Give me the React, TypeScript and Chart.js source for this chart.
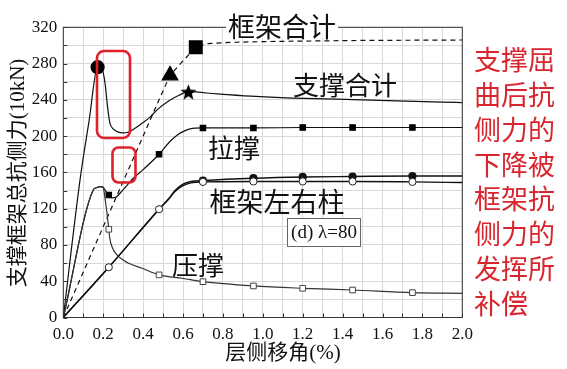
import React, { useEffect, useRef } from "react";
import { Chart, registerables } from "chart.js";
Chart.register(...registerables);

// ---- data (drift ratio %, lateral force 10kN) ----
const braceTotalX = [0, 0.084, 0.13, 0.172, 0.19, 0.2, 0.21, 0.218, 0.226, 0.234, 0.25, 0.27, 0.3, 0.32, 0.4, 0.435, 0.47, 0.53, 0.58, 0.627, 0.77, 0.94, 1.15, 1.5, 1.9, 2.0];
const braceTotalY = [0, 152, 218, 276, 275, 270, 257, 240, 225, 214, 208, 205, 203.5, 204, 215, 221, 229, 239, 245, 249, 246.5, 244, 242, 240, 237.5, 237];

const tensionX = [0, 0.15, 0.165, 0.184, 0.2, 0.214, 0.228, 0.245, 0.265, 0.3, 0.351, 0.4, 0.48, 0.53, 0.57, 0.6, 0.635, 0.7, 0.953, 1.2, 1.45, 1.75, 2.0];
const tensionY = [0, 140.7, 143, 144.4, 143.7, 139, 135, 132, 133, 141, 153.6, 163, 180, 193, 201, 205, 208, 209, 209, 209.5, 209.5, 209.5, 209.5];

const compX = [0, 0.15, 0.165, 0.184, 0.2, 0.205, 0.21, 0.219, 0.228, 0.233, 0.244, 0.269, 0.3, 0.328, 0.395, 0.48, 0.6, 0.7, 0.953, 1.2, 1.45, 1.75, 2.0];
const compY = [0, 140.7, 143, 144.4, 143.7, 138, 130, 115, 97.3, 87.4, 78, 69, 63.5, 59.8, 54.3, 47, 43, 39.5, 34.8, 32.2, 30.3, 27.4, 26.7];

const columnX = [0, 0.228, 0.48, 0.53, 0.56, 0.6, 0.64, 0.7, 0.953, 1.2, 1.45, 1.75, 2.0];
const columnOpenY = [0, 55.4, 119.4, 131, 139, 145.5, 148.5, 149.5, 150, 150, 150, 149.5, 148.8];
const columnFilledY = [0, 55.4, 119.4, 131.5, 140, 147, 150, 151, 153.6, 155, 155.5, 156, 156];

const frameTotalX = [0, 0.228, 0.48, 0.535, 0.6, 0.664, 0.72, 0.85, 1.07, 1.5, 2.0];
const frameTotalY = [0, 114, 240, 267, 283, 298, 302, 303.5, 304.5, 305.5, 306];

const markX = [0.228, 0.48, 0.7, 0.953, 1.2, 1.45, 1.75];
const filledColMarkX = [0.7, 0.953, 1.2, 1.45, 1.75];

const bucklePoint = [0.172, 276];
const trianglePoint = [0.535, 267];
const squarePoint = [0.664, 298];
const starPoint = [0.627, 249];

const xTicks = [0, 0.2, 0.4, 0.6, 0.8, 1.0, 1.2, 1.4, 1.6, 1.8, 2.0];
const yTicks = [0, 40, 80, 120, 160, 200, 240, 280, 320];

const labelFrameTotal = "框架合计";
const labelBraceTotal = "支撑合计";
const labelTension = "拉撑";
const labelColumns = "框架左右柱";
const labelComp = "压撑";
const labelCase = "(d) λ=80";
const noteLines = ["支撑屈", "曲后抗", "侧力的", "下降被", "框架抗", "侧力的", "发挥所", "补偿"];
const xTitle = "层侧移角(%)";
const yTitle = "支撑框架总抗侧力(10kN)";

const pts = (xs: number[], ys: number[]) => xs.map((x, i) => ({ x, y: ys[i] }));
const near = (arr: number[], v: number) => arr.some((a) => Math.abs(a - v) < 1e-6);

const CJK = '"Noto Sans CJK SC"';
const MIX = '"Liberation Serif", "Noto Sans CJK SC"';

function makeStar(size: number) {
  const c = document.createElement("canvas");
  c.width = size;
  c.height = size;
  const g = c.getContext("2d")!;
  const cx = size / 2, cy = size / 2 + 1;
  const R = size / 2, r = R * 0.42;
  g.beginPath();
  for (let i = 0; i < 10; i++) {
    const ang = -Math.PI / 2 + (i * Math.PI) / 5;
    const rad = i % 2 === 0 ? R : r;
    const px = cx + rad * Math.cos(ang);
    const py = cy + rad * Math.sin(ang);
    if (i === 0) g.moveTo(px, py);
    else g.lineTo(px, py);
  }
  g.closePath();
  g.fillStyle = "#000";
  g.fill();
  return c;
}

const annotations = {
  id: "annotations",
  afterDraw(chart: any) {
    const ctx = chart.ctx;
    const a = chart.chartArea;
    const xs = chart.scales.x;
    const ys = chart.scales.y;
    ctx.save();
    // frame
    ctx.strokeStyle = "#333";
    ctx.lineWidth = 1;
    ctx.strokeRect(a.left, a.top, a.right - a.left, a.bottom - a.top);
    // inner ticks
    ctx.beginPath();
    for (let v = 0; v <= 2.0001; v += 0.1) {
      const px = Math.round(xs.getPixelForValue(v)) + 0.5;
      ctx.moveTo(px, a.bottom);
      ctx.lineTo(px, a.bottom - 4);
    }
    for (let v = 0; v <= 320; v += 20) {
      const py = Math.round(ys.getPixelForValue(v)) + 0.5;
      ctx.moveTo(a.left, py);
      ctx.lineTo(a.left + 4, py);
    }
    ctx.stroke();

    ctx.fillStyle = "#111";
    ctx.textAlign = "center";
    ctx.textBaseline = "middle";
    // 框架合计 with white background
    ctx.font = `27px ${CJK}`;
    const w = ctx.measureText(labelFrameTotal).width;
    ctx.fillStyle = "#fff";
    ctx.fillRect(282 - w / 2 - 2, 13, w + 4, 25);
    ctx.fillStyle = "#111";
    ctx.fillText(labelFrameTotal, 282, 27);
    ctx.font = `26px ${CJK}`;
    ctx.fillText(labelBraceTotal, 345, 85);
    ctx.fillText(labelTension, 234, 148);
    ctx.font = `27px ${CJK}`;
    ctx.fillText(labelColumns, 277, 202);
    ctx.font = `26px ${CJK}`;
    ctx.fillText(labelComp, 198, 265);

    // case box
    ctx.fillStyle = "#fff";
    ctx.fillRect(287.5, 218.5, 73, 28);
    ctx.strokeStyle = "#666";
    ctx.strokeRect(287.5, 218.5, 73, 28);
    ctx.fillStyle = "#111";
    ctx.font = `19px "Liberation Serif"`;
    ctx.fillText(labelCase, 324, 233);

    // red highlight boxes
    ctx.strokeStyle = "#e0202a";
    ctx.lineWidth = 2.6;
    const rr = (x: number, y: number, ww: number, hh: number, r: number) => {
      ctx.beginPath();
      ctx.roundRect(x, y, ww, hh, r);
      ctx.stroke();
    };
    rr(97, 51, 33, 87, 7);
    rr(112.5, 147.5, 23, 35, 6);

    // red note text
    ctx.fillStyle = "#d9262e";
    ctx.font = `27px ${CJK}`;
    ctx.textAlign = "left";
    noteLines.forEach((ln, i) => ctx.fillText(ln, 474, 60 + i * 34.8));

    // axis titles
    ctx.fillStyle = "#111";
    ctx.textAlign = "center";
    ctx.font = `21px ${MIX}`;
    ctx.fillText(xTitle, 283, 353);
    ctx.translate(18, 173);
    ctx.rotate(-Math.PI / 2);
    ctx.fillText(yTitle, 0, 0);
    ctx.restore();
  },
};

export default function App() {
  const ref = useRef<HTMLCanvasElement>(null);
  useEffect(() => {
    const star = makeStar(17);
    const line = (data: any[], extra: any) => ({
      type: "line",
      data,
      borderColor: "#111",
      borderWidth: 1.2,
      pointRadius: 0,
      pointHoverRadius: 0,
      cubicInterpolationMode: "monotone",
      fill: false,
      ...extra,
    });
    const chart = new Chart(ref.current!, {
      type: "line",
      data: {
        datasets: [
          line([{ x: bucklePoint[0], y: bucklePoint[1] }], { showLine: false, pointRadius: 6.5, pointBackgroundColor: "#000", pointBorderColor: "#000", pointStyle: "circle" }),
          line([{ x: trianglePoint[0], y: trianglePoint[1] }], { showLine: false, pointRadius: 9, pointBackgroundColor: "#000", pointBorderColor: "#000", pointStyle: "triangle" }),
          line([{ x: squarePoint[0], y: squarePoint[1] }], { showLine: false, pointRadius: 9, pointBackgroundColor: "#000", pointBorderColor: "#000", pointStyle: "rect" }),
          line([{ x: starPoint[0], y: starPoint[1] }], { showLine: false, pointRadius: 8, pointStyle: star }),
          line(pts(compX, compY), {
            borderColor: "#333",
            pointStyle: "rect",
            pointBackgroundColor: "#fff",
            pointBorderColor: "#444",
            pointBorderWidth: 1,
            pointRadius: (c: any) => (near(markX, c.raw.x) ? 4 : 0),
          }),
          line(pts(columnX, columnOpenY), {
            borderWidth: 1.4,
            pointStyle: "circle",
            pointBackgroundColor: "#fff",
            pointBorderColor: "#222",
            pointBorderWidth: 1,
            pointRadius: (c: any) => (near(markX, c.raw.x) ? 3.6 : 0),
          }),
          line(pts(columnX, columnFilledY), {
            borderWidth: 1.4,
            pointStyle: "circle",
            pointBackgroundColor: "#111",
            pointBorderColor: "#111",
            pointRadius: (c: any) => (near(filledColMarkX, c.raw.x) ? 3.4 : 0),
          }),
          line(pts(tensionX, tensionY), {
            pointStyle: "rect",
            pointBackgroundColor: "#000",
            pointBorderColor: "#000",
            pointRadius: (c: any) => (near(markX, c.raw.x) ? 3.8 : 0),
          }),
          line(pts(braceTotalX, braceTotalY), {}),
          line(pts(frameTotalX, frameTotalY), { borderDash: [5, 4], cubicInterpolationMode: "default", tension: 0 }),
        ],
      },
      options: {
        animation: false,
        responsive: false,
        events: [],
        layout: { padding: { left: 0, right: 104.7, top: 27.3, bottom: 0 } },
        plugins: { legend: { display: false }, tooltip: { enabled: false } },
        scales: {
          x: {
            type: "linear",
            min: 0,
            max: 2.0,
            afterFit: (s: any) => { s.height = 51.5; },
            ticks: {
              stepSize: 0.1,
              padding: 7,
              color: "#111",
              font: { family: "Liberation Serif", size: 17 },
              autoSkip: false,
              maxRotation: 0,
              callback: (v: any) => {
                const n = Number(v);
                return near(xTicks, Math.round(n * 10) / 10) ? n.toFixed(1) : "";
              },
            },
            grid: { color: "#d9d9d9", drawTicks: false },
            border: { display: false },
          },
          y: {
            type: "linear",
            min: 0,
            max: 320,
            afterFit: (s: any) => { s.width = 63.3; },
            ticks: {
              stepSize: 20,
              padding: 6,
              color: "#111",
              font: { family: "Liberation Serif", size: 17 },
              autoSkip: false,
              callback: (v: any) => (yTicks.includes(Number(v)) ? String(v) : ""),
            },
            grid: { color: "#d9d9d9", drawTicks: false },
            border: { display: false },
          },
        },
      } as any,
      plugins: [annotations],
    } as any);
    return () => chart.destroy();
  }, []);
  return (
    <div style={{ position: "fixed", left: 0, top: 0, width: 567, height: 369, background: "#fff" }}>
      <canvas ref={ref} width={567} height={369} style={{ display: "block" }} />
    </div>
  );
}
